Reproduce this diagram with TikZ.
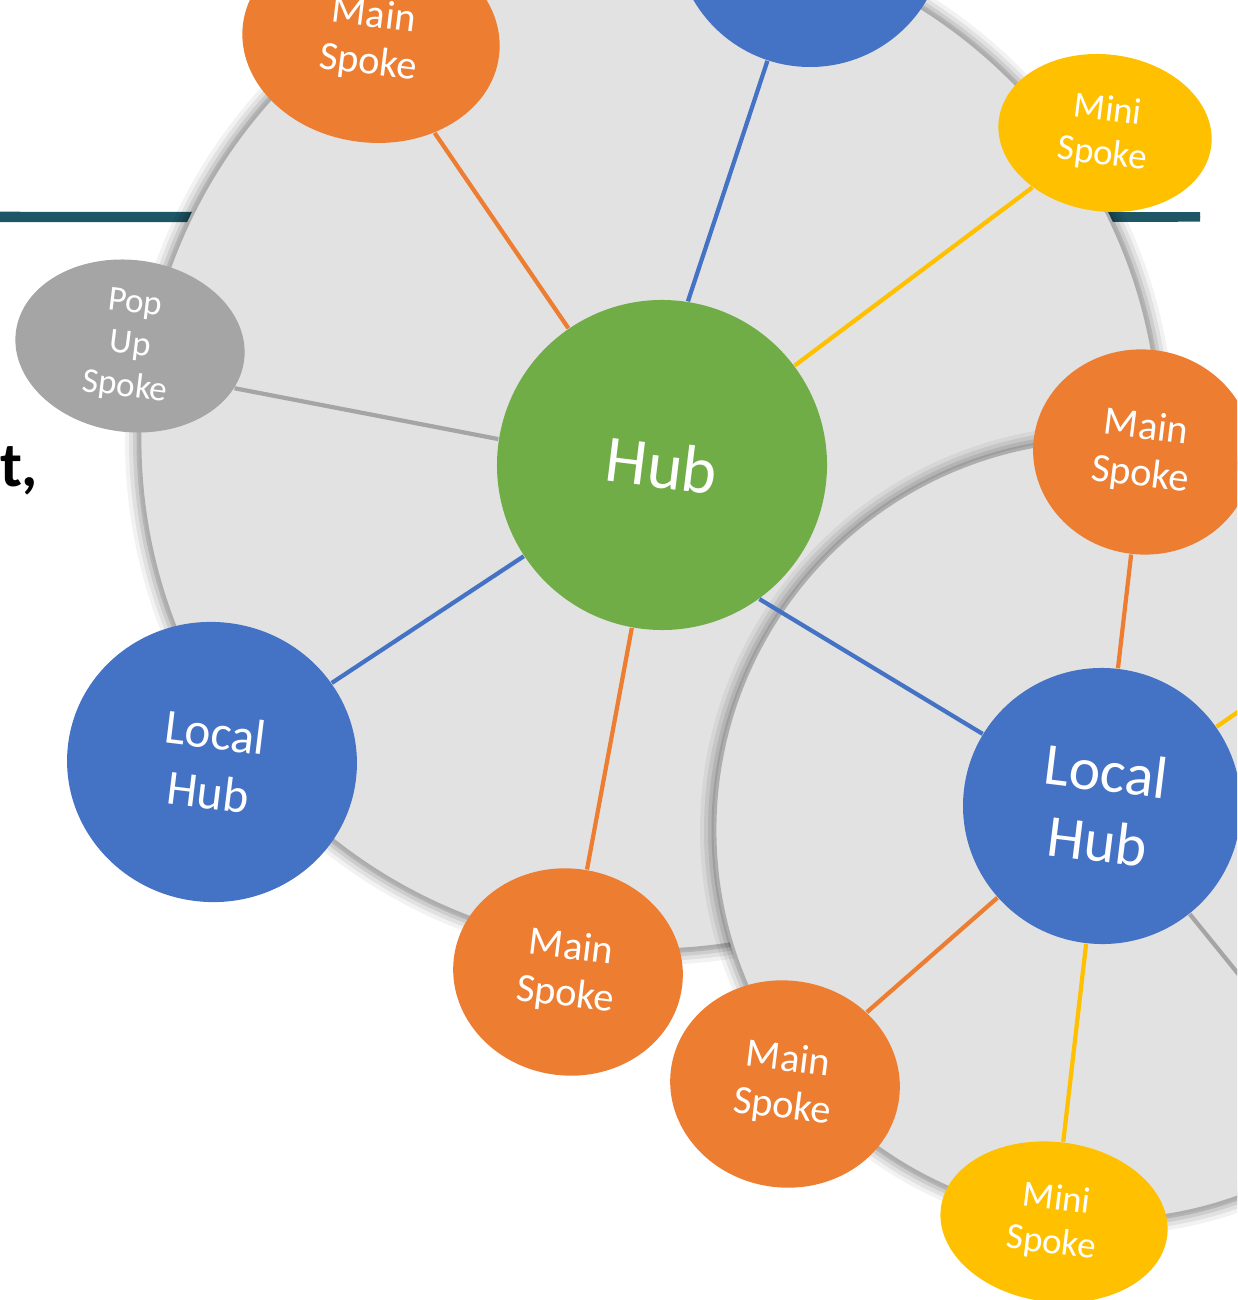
\documentclass[tikz,border=0pt]{standalone}
\usepackage{fontspec}
\setmainfont{Carlito}
\usepackage{xcolor}
\usepackage{tikz}
\usetikzlibrary{positioning, shapes.geometric}

\definecolor{laranja}{HTML}{ED7D31}
\definecolor{azul}{HTML}{4472C4}
\definecolor{verde}{HTML}{70AD47}
\definecolor{amarelo}{HTML}{FFC000}
\definecolor{cinza}{HTML}{A5A5A5}
\definecolor{fundo}{HTML}{E2E2E2}
\definecolor{petroleo}{HTML}{1E5665}

\tikzset{
    disco/.style={fill=fundo, draw=black!32, line width=0.8pt},
    nodo/.style={ellipse, inner sep=0pt, text=white, align=center, rotate=-7},
    hubverde/.style={nodo, fill=verde, minimum width=3.3cm, minimum height=3.3cm, font=\fontsize{19}{20}\selectfont},
    hublocal/.style={nodo, fill=azul},
    raioprincipal/.style={nodo, fill=laranja, font=\fontsize{11.5}{13.5}\selectfont},
    raiomini/.style={nodo, fill=amarelo, font=\fontsize{10.5}{12.5}\selectfont},
    raiopopup/.style={nodo, fill=cinza, font=\fontsize{10}{12}\selectfont},
    ligacao/.style={line width=1.2pt}
}

\begin{document}
\begin{tikzpicture}
    \useasboundingbox (0,0) rectangle (12.37,-13);
    \clip (0,0) rectangle (12.37,-13);

    % Linha de fundo
    \draw[petroleo, line width=0.055cm] (0,-2.145) -- (12.0,-2.15);
    \draw[petroleo, line width=0.055cm] (0,-2.195) -- (12.0,-2.19);

    % Texto cortado
    \node[anchor=base east, inner sep=0pt] (texto) at (0.39,-4.87) {\fontsize{18}{18}\selectfont\bfseries rt,};

    % Disco principal
    \foreach \w/\o in {0.30/0.05, 0.22/0.07, 0.14/0.09, 0.07/0.12}
        \draw[black, opacity=\o, line width=\w cm] (6.5,-4.4) circle (5.1);
    \filldraw[disco] (6.5,-4.4) circle (5.1);

    % Disco do hub local
    \foreach \w/\o in {0.30/0.05, 0.22/0.07, 0.14/0.09, 0.07/0.12}
        \draw[black, opacity=\o, line width=\w cm] (11.05,-8.3) circle (3.9);
    \filldraw[disco] (11.05,-8.3) circle (3.9);

    % Hub central
    \node[hubverde] (hub) at (6.62,-4.65) {Hub};

    % Raios do hub central
    \node[raioprincipal, minimum width=2.58cm, minimum height=2.05cm] (mainA) at (3.71,-0.40) {Main\\Spoke};
    \node[hublocal, minimum width=2.7cm, minimum height=2.7cm] (localA) at (8.10,0.68) {};
    \node[raiomini, minimum width=2.14cm, minimum height=1.57cm] (miniA) at (11.05,-1.33) {Mini\\Spoke};
    \node[raiopopup, minimum width=2.30cm, minimum height=1.72cm] (popup) at (1.30,-3.46) {Pop\\Up\\Spoke};
    \node[hublocal, minimum width=2.90cm, minimum height=2.80cm, font=\fontsize{14}{17}\selectfont] (localB) at (2.12,-7.62) {Local\\Hub};
    \node[raioprincipal, minimum width=2.30cm, minimum height=2.07cm] (mainB) at (5.68,-9.72) {Main\\Spoke};

    % Hub local e seus raios
    \node[hublocal, minimum width=2.78cm, minimum height=2.76cm, font=\fontsize{17}{20}\selectfont] (localC) at (11.02,-8.06) {Local\\Hub};
    \node[raioprincipal, minimum width=2.20cm, minimum height=2.05cm] (mainC) at (11.43,-4.52) {Main\\Spoke};
    \node[raioprincipal, minimum width=2.30cm, minimum height=2.07cm] (mainD) at (7.85,-10.84) {Main\\Spoke};
    \node[raiomini, minimum width=2.28cm, minimum height=1.60cm] (miniB) at (10.54,-12.22) {Mini\\Spoke};
    \coordinate (foraA) at (13.0,-6.69);
    \coordinate (foraB) at (13.0,-10.5);

    % Ligacoes
    \draw[ligacao, laranja] (mainA) -- (hub);
    \draw[ligacao, azul] (localA) -- (hub.88);
    \draw[ligacao, amarelo] (miniA) -- (hub);
    \draw[ligacao, cinza] (popup.-15) -- (hub.178);
    \draw[ligacao, azul] (hub) -- (localB);
    \draw[ligacao, laranja] (hub) -- (mainB);
    \draw[ligacao, azul] (hub.-47) -- (localC);
    \draw[ligacao, laranja] (mainC) -- (localC);
    \draw[ligacao, laranja] (localC) -- (mainD);
    \draw[ligacao, amarelo] (localC) -- (miniB);
    \draw[ligacao, amarelo] (localC) -- (foraA);
    \draw[ligacao, cinza] (localC) -- (foraB);
\end{tikzpicture}
\end{document}
